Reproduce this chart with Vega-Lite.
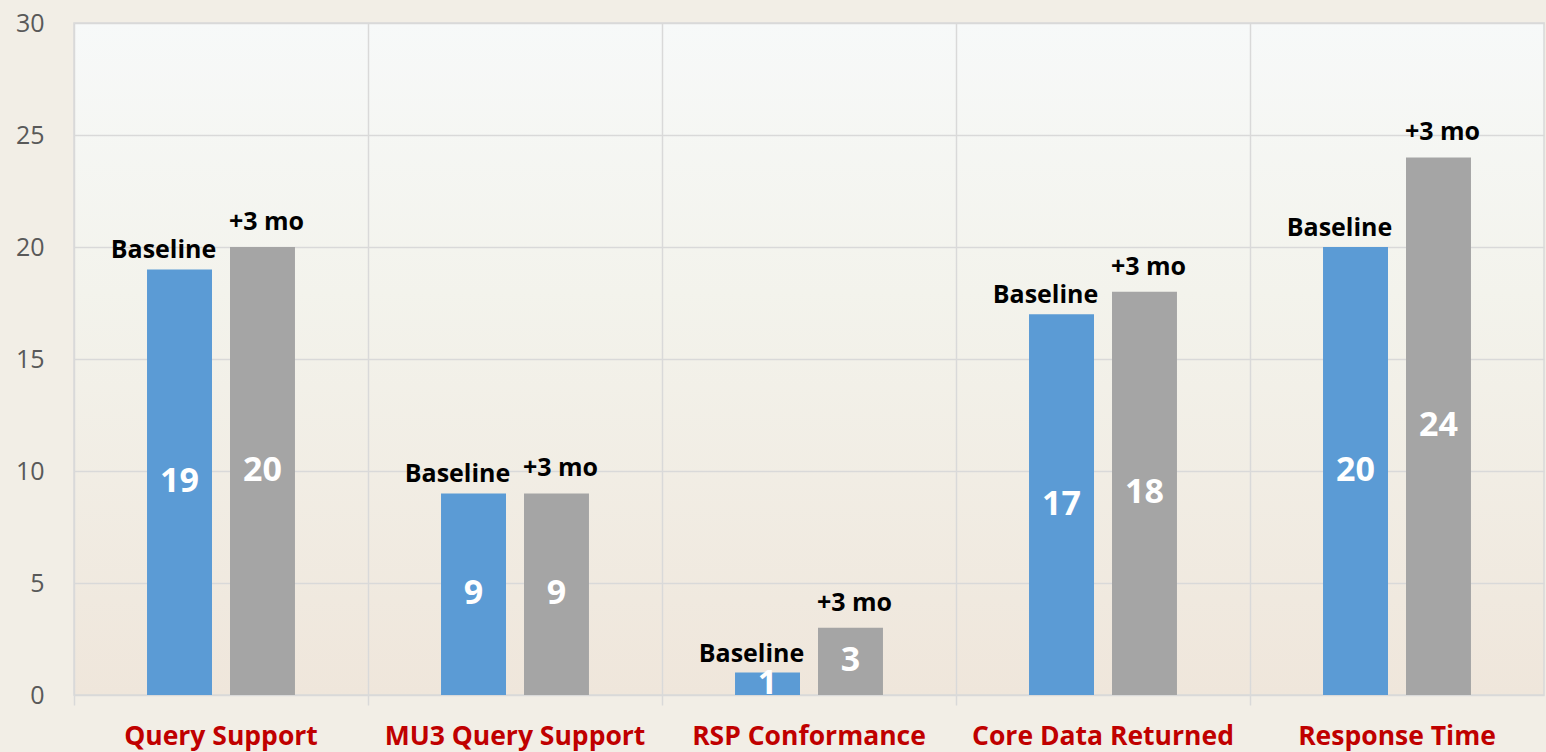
{
  "$schema": "https://vega.github.io/schema/vega-lite/v6.json",
  "autosize": "none",
  "width": 1470,
  "height": 672,
  "padding": {"left": 74, "top": 23, "right": 2, "bottom": 57},
  "background": "#f2eee6",
  "view": {
    "stroke": "#d9d9d9",
    "strokeWidth": 1.5,
    "fill": {
      "gradient": "linear",
      "x1": 0, "y1": 0, "x2": 0, "y2": 1,
      "stops": [
        {"offset": 0, "color": "#f7f9f9"},
        {"offset": 0.4, "color": "#f3f3ec"},
        {"offset": 1, "color": "#efe6db"}
      ]
    }
  },
  "data": {
    "values": [
      {"category": "Query Support", "series": "Baseline", "value": 19},
      {"category": "Query Support", "series": "+3 mo", "value": 20},
      {"category": "MU3 Query Support", "series": "Baseline", "value": 9},
      {"category": "MU3 Query Support", "series": "+3 mo", "value": 9},
      {"category": "RSP Conformance", "series": "Baseline", "value": 1},
      {"category": "RSP Conformance", "series": "+3 mo", "value": 3},
      {"category": "Core Data Returned", "series": "Baseline", "value": 17},
      {"category": "Core Data Returned", "series": "+3 mo", "value": 18},
      {"category": "Response Time", "series": "Baseline", "value": 20},
      {"category": "Response Time", "series": "+3 mo", "value": 24}
    ]
  },
  "encoding": {
    "x": {
      "field": "category",
      "type": "nominal",
      "sort": null,
      "scale": {"paddingInner": 0, "paddingOuter": 0},
      "axis": {
        "title": null,
        "labelAngle": 0,
        "bandPosition": 0,
        "grid": true,
        "gridColor": "#d9d9d9",
        "gridWidth": 1.5,
        "domain": false,
        "ticks": true,
        "tickColor": "#d9d9d9",
        "tickWidth": 1.5,
        "tickSize": 10,
        "labelBound": false,
        "labelFlush": false,
        "labelOverlap": false,
        "labelLimit": 0,
        "labelPadding": 18,
        "labelFont": "Open Sans",
        "labelFontWeight": "bold",
        "labelFontSize": 26.5,
        "labelColor": "#c00000"
      }
    },
    "xOffset": {
      "field": "series",
      "type": "nominal",
      "sort": ["Baseline", "+3 mo"],
      "scale": {"paddingInner": 0.217, "paddingOuter": 0.88}
    },
    "y": {
      "field": "value",
      "type": "quantitative",
      "scale": {"domain": [0, 30]},
      "axis": {
        "title": null,
        "values": [0, 5, 10, 15, 20, 25, 30],
        "grid": true,
        "gridColor": "#d9d9d9",
        "gridWidth": 1.5,
        "domain": false,
        "ticks": false,
        "labelPadding": 30,
        "labelFont": "Open Sans",
        "labelFontSize": 25,
        "labelColor": "#595959"
      }
    }
  },
  "layer": [
    {
      "mark": {"type": "bar"},
      "encoding": {
        "color": {
          "field": "series",
          "type": "nominal",
          "scale": {"domain": ["Baseline", "+3 mo"], "range": ["#5b9bd5", "#a5a5a5"]},
          "legend": null
        }
      }
    },
    {
      "transform": [{"filter": "datum.series === 'Baseline'"}],
      "mark": {
        "type": "text",
        "baseline": "alphabetic",
        "dy": -11,
        "dx": -16,
        "font": "Open Sans",
        "fontWeight": "bold",
        "fontSize": 25,
        "color": "#000000"
      },
      "encoding": {
        "text": {"field": "series"}
      }
    },
    {
      "transform": [{"filter": "datum.series === '+3 mo'"}],
      "mark": {
        "type": "text",
        "baseline": "alphabetic",
        "dy": -17,
        "dx": 4,
        "font": "Open Sans",
        "fontWeight": "bold",
        "fontSize": 25,
        "color": "#000000"
      },
      "encoding": {
        "text": {"field": "series"}
      }
    },
    {
      "transform": [{"calculate": "datum.value / 2", "as": "mid"}],
      "mark": {
        "type": "text",
        "baseline": "middle",
        "font": "Open Sans",
        "fontWeight": "bold",
        "fontSize": 34,
        "color": "#ffffff"
      },
      "encoding": {
        "y": {"field": "mid", "type": "quantitative"},
        "text": {"field": "value", "type": "quantitative"}
      }
    }
  ]
}
